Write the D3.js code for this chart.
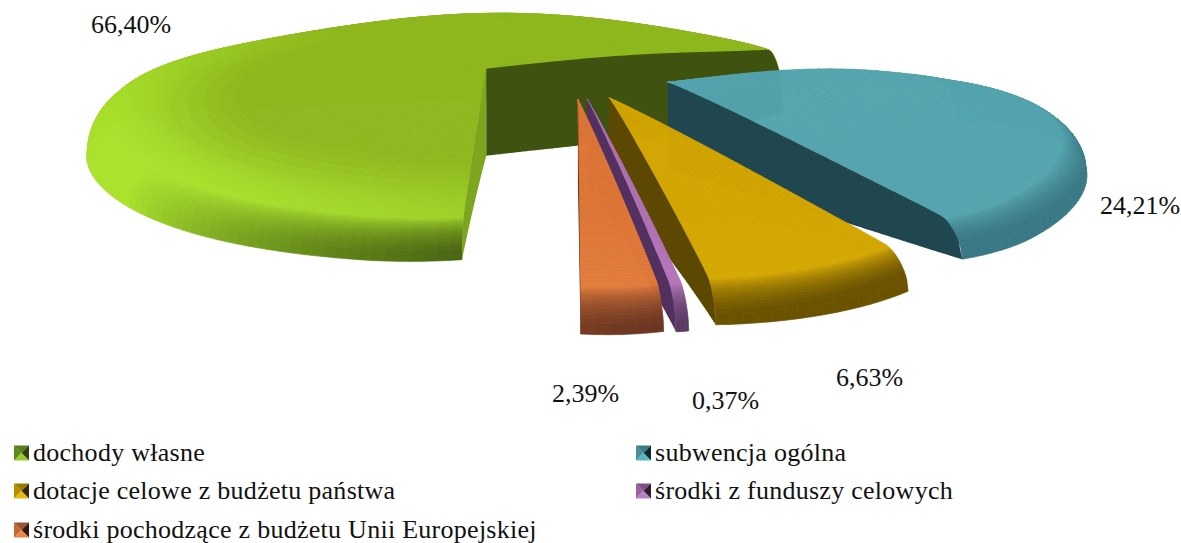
<!DOCTYPE html>
<html><head><meta charset="utf-8">
<script src="https://cdn.jsdelivr.net/npm/d3@7/dist/d3.min.js"></script>
<style>html,body{margin:0;padding:0;background:#fff}svg{display:block}text{font-family:"Liberation Serif","Times New Roman",serif;fill:#111}</style>
</head><body><svg id="c" width="1181" height="543"></svg>
<script>
const categories=["dochody własne","subwencja ogólna","dotacje celowe z budżetu państwa","środki z funduszy celowych","środki pochodzące z budżetu Unii Europejskiej"];
const values=[66.40,24.21,6.63,0.37,2.39];
const valueLabels=["66,40%","24,21%","6,63%","0,37%","2,39%"];

// styling, kept apart from the data
const faceColors=["#8eb81e","#53a4ae","#d2a500","#b071b5","#dd7537"];
const brightColors=["#aae22c","#58b0bb","#d8ab00","#b878bd","#e5803f"];
const darkColors=["#3f5a10","#3a7885","#6b5200","#5a3a62","#6a3520"];
const wallColors=["#3f5210","#20464f","#5c4800","#52305f","#6b3a1c"];
const backTrim=[0,0.5,0,0,0];
const labelAnchors=[[91,33],[1100,214],[836,386],[692,409],[552,402]];
const legendAnchors=[[14,453],[636,453],[14,491],[636,491],[14,530]];
const markerShades=[["#5c8a1a","#5b7c1c","#2f400c","#98c82a"],["#4a8c96","#3c7a85","#10292f","#58b6c2"],["#b98f00","#9c7a00","#33290a","#e6b90e"],["#9a62a0","#7d4f84","#2c1c30","#bb7cc0"],["#c46a32","#9c5530","#331a10","#ec8446"]];

// projection of the exploded 3D pie
const startDeg=180, explode=99, R=395, cx=570, cy=165, a=0.2, q=0.00085, p=0.0006;
const T0=87, u0=0.93, sideLift=25;
const rad=d=>d*Math.PI/180;
const arcs=d3.pie().sort(null).startAngle(rad(startDeg)).endAngle(rad(startDeg+360)).value(d=>d)(values);
const scaleU=d3.scaleLinear().domain([0,1]).range([0,R]);
const ss=(l,h,x)=>{const t=Math.min(1,Math.max(0,(x-l)/(h-l)));return t*t*(3-2*t);};

function rimHeight(i,th){
  const c=-Math.cos(th);
  const h=c>=0?45-13*c:45+30*(-c)+16*Math.pow(-c,3);
  return h*(1-backTrim[i]*(1-c)/2);
}
function height(i,u,th){
  const c=-Math.cos(th);
  const pw=Math.min(3,Math.max(1.2,2.15-1.7*c));
  const t=T0+(rimHeight(i,th)-T0)*Math.pow(u,pw);
  if(u<=u0) return t;
  const e=(u-u0)/(1-u0);
  return t*Math.sqrt(Math.max(0,1-e*e));
}
function pt(i,u,th){
  const arc=arcs[i];
  const mid=(arc.startAngle+arc.endAngle)/2;
  const width=arc.endAngle-arc.startAngle;
  const dc=Math.min(rad(12),width/2);
  const dist=Math.min(th-arc.startAngle,arc.endAngle-th);
  const kappa=Math.pow(Math.max(0,1-dist/dc),2);
  const round=1-0.022*Math.min(1,width/rad(40))*kappa*ss(0.85,1,u);
  const r=scaleU(u)*round;
  const X=explode*Math.sin(mid)+r*Math.sin(th);
  const Z=-explode*Math.cos(mid)-r*Math.cos(th);
  const lift=sideLift*Math.pow(u,6)*Math.pow(Math.sin(th),4);
  return {x:cx+X/(1-p*Z), y:cy+a*Z/(1-q*Z)-lift, Z};
}
const top3=(i,u,th)=>{const b=pt(i,u,th);return [b.x,b.y-height(i,u,th)];};
const base3=(i,u,th)=>{const b=pt(i,u,th);return [b.x,b.y];};

function shade(i,u,th){
  const deg=th*180/Math.PI;
  const lit=Math.max(0,Math.cos(rad(deg-235)));
  const s=ss(0.6,0.97,u)*lit;
  const c=d3.interpolateRgb(faceColors[i],brightColors[i])(s);
  const e=Math.max(0,(u-u0-0.015)/(1-u0-0.015));
  const dk=Math.pow(e,0.9)*Math.max(0,Math.cos(rad(deg-140)))*1.2;
  return d3.interpolateRgb(c,darkColors[i])(Math.min(1,dk));
}

const uGrid=d3.range(0,0.8,0.04).concat(d3.range(0.8,0.93,0.01)).concat(d3.range(0.93,1.0001,0.0035));
const svg=d3.select("#c"), line=d3.line();
const pieG=svg.append("g");
arcs.forEach((arc,i)=>{
  const n=Math.max(3,Math.ceil((arc.endAngle-arc.startAngle)/rad(1.5)));
  const ths=d3.range(n+1).map(k=>arc.startAngle+(arc.endAngle-arc.startAngle)*k/n);
  const cells=[];
  for(let k=0;k<n;k++)for(let j=0;j<uGrid.length-1;j++){
    const t0=ths[k],t1=ths[k+1],u1=uGrid[j],u2=uGrid[j+1];
    cells.push({z:pt(i,(u1+u2)/2,(t0+t1)/2).Z,
      d:line([top3(i,u1,t0),top3(i,u2,t0),top3(i,u2,t1),top3(i,u1,t1)])+"Z",
      c:shade(i,(u1+u2)/2,(t0+t1)/2)});
  }
  cells.sort((m,o)=>m.z-o.z);
  const g=pieG.append("g").attr("class","slice");
  g.selectAll("path.cell").data(cells).join("path").attr("class","cell")
    .attr("d",d=>d.d).attr("fill",d=>d.c).attr("stroke",d=>d.c).attr("stroke-width",0.7);
  const wall=(th,color)=>{
    const us=d3.range(0,1.0001,0.01);
    const up=us.map(u=>top3(i,u,th)), dn=us.map(u=>base3(i,u,th)).reverse();
    g.append("path").attr("d",line(up.concat(dn))+"Z").attr("fill",color);
  };
  if(i===0) wall(arc.startAngle,"#7ea51e");
  wall(arc.endAngle,wallColors[i]);
});

// value labels
svg.append("g").selectAll("text").data(valueLabels).join("text")
  .attr("x",(d,i)=>labelAnchors[i][0]).attr("y",(d,i)=>labelAnchors[i][1])
  .attr("font-size",26).text(d=>d);

// legend
const lg=svg.append("g").selectAll("g").data(categories).join("g")
  .attr("transform",(d,i)=>`translate(${legendAnchors[i][0]},${legendAnchors[i][1]})`);
const m=7.5;
const tris=[[[-m,-m],[0,0],[-m,m]],[[-m,-m],[m,-m],[0,0]],[[m,-m],[m,m],[0,0]],[[-m,m],[m,m],[0,0]]];
lg.each(function(d,i){
  d3.select(this).selectAll("path").data(tris).join("path")
    .attr("transform",`translate(${m},0)`)
    .attr("d",t=>line(t)+"Z").attr("fill",(t,k)=>markerShades[i][k]);
});
lg.append("text").attr("x",19).attr("y",8).attr("font-size",26).attr("letter-spacing",0.27).text(d=>d);
</script></body></html>
